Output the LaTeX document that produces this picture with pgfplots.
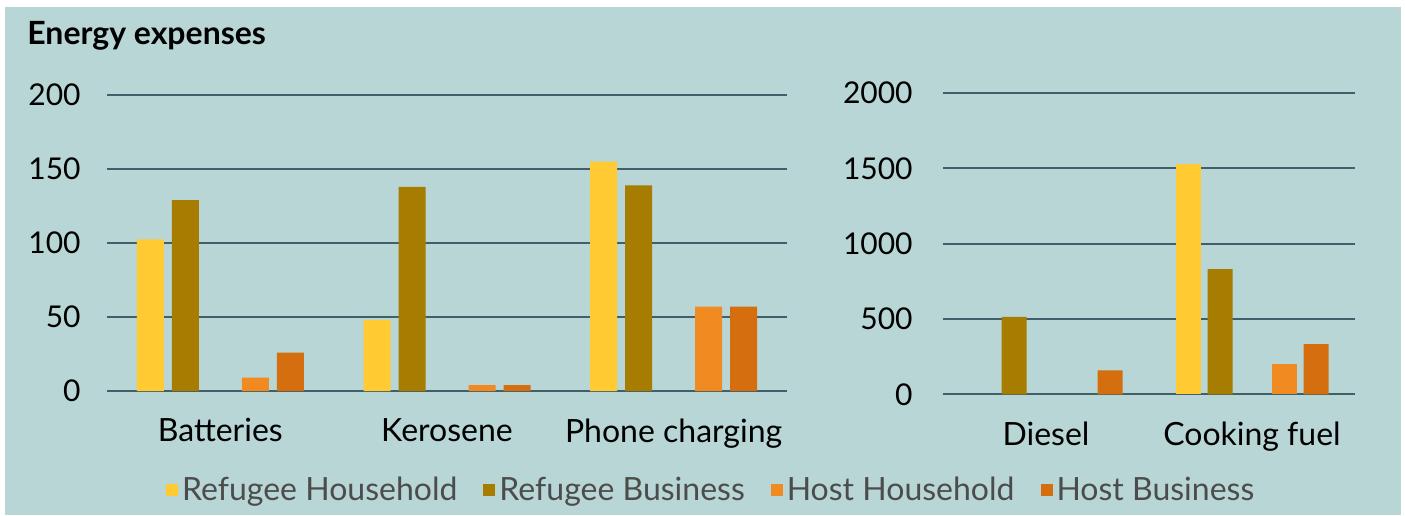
\documentclass[border=0pt]{standalone}
\usepackage{pgfplots}
\pgfplotsset{compat=1.18}
\usepackage{fontspec}
\setmainfont{Lato}

\definecolor{bgteal}{RGB}{184,214,214}
\definecolor{gridc}{RGB}{65,95,105}
\definecolor{refhh}{RGB}{255,202,50}
\definecolor{refbus}{RGB}{166,125,0}
\definecolor{hosthh}{RGB}{242,138,34}
\definecolor{hostbus}{RGB}{212,110,14}

\pgfplotsset{
  exp/.style={
    scale only axis,
    ybar, ymin=0,
    axis line style={draw=none},
    tick style={draw=none},
    ymajorgrids,
    grid style={gridc, line width=1pt},
    tick label style={font=\fontsize{15pt}{17pt}\selectfont},
    xticklabel style={font=\fontsize{16pt}{18pt}\selectfont, yshift=-6pt},
    /pgf/number format/assume math mode=true,
    /pgf/number format/1000 sep={},
  },
}

\begin{document}
\begin{tikzpicture}
\useasboundingbox (0,0) rectangle (702.5pt,257.5pt);
\fill[white] (0,0) rectangle (702.5pt,257.5pt);
\fill[bgteal] (2.5pt,0) rectangle (700.5pt,254pt);
\node[anchor=base west, inner sep=0pt, font=\fontsize{16pt}{18pt}\selectfont\bfseries] at (13.5pt,235pt) {Energy expenses};

% left panel
\begin{axis}[exp,
  at={(53.5pt,62pt)}, anchor=south west,
  width=340pt, height=148pt,
  xmin=-0.5, xmax=2.5,
  ymax=200, ytick={0,50,100,150,200},
  yticklabel style={anchor=east, inner sep=0pt, xshift=-13pt},
  xtick={0,1,2},
  xticklabels={Batteries, Kerosene, Phone charging},
  bar width=13.5pt,
  legend columns=4,
  legend style={at={(0.89,-0.334)}, anchor=center, draw=none, fill=none,
    font=\fontsize{16pt}{18pt}\selectfont\color{black!70},
    /tikz/every even column/.append style={column sep=11pt}},
  legend image code/.code={\fill[#1] (0pt,-3pt) rectangle (6pt,3pt);},
]
\addplot[fill=refhh, draw=none, bar shift=-35pt] coordinates {(0,102.5) (1,48) (2,155)};
\addplot[fill=refbus, draw=none, bar shift=-17.5pt] coordinates {(0,129) (1,138) (2,139)};
\addplot[fill=hosthh, draw=none, bar shift=17.5pt] coordinates {(0,9) (1,4) (2,57)};
\addplot[fill=hostbus, draw=none, bar shift=35pt] coordinates {(0,26) (1,4) (2,57)};
\legend{Refugee Household, Refugee Business, Host Household, Host Business}
\end{axis}

% right panel
\begin{axis}[exp,
  at={(471.5pt,60.35pt)}, anchor=south west,
  width=206pt, height=150.6pt,
  xmin=-0.5, xmax=1.5,
  ymax=2000, ytick={0,500,1000,1500,2000},
  yticklabel style={anchor=east, inner sep=0pt, xshift=-15pt},
  xtick={0,1},
  xticklabels={Diesel, Cooking fuel},
  bar width=12.5pt,
]
\addplot[fill=refhh, draw=none, bar shift=-32pt] coordinates {(1,1529)};
\addplot[fill=refbus, draw=none, bar shift=-16pt] coordinates {(0,514) (1,832)};
\addplot[fill=hosthh, draw=none, bar shift=16pt] coordinates {(1,201)};
\addplot[fill=hostbus, draw=none, bar shift=32pt] coordinates {(0,159) (1,334)};
\end{axis}
\end{tikzpicture}
\end{document}
